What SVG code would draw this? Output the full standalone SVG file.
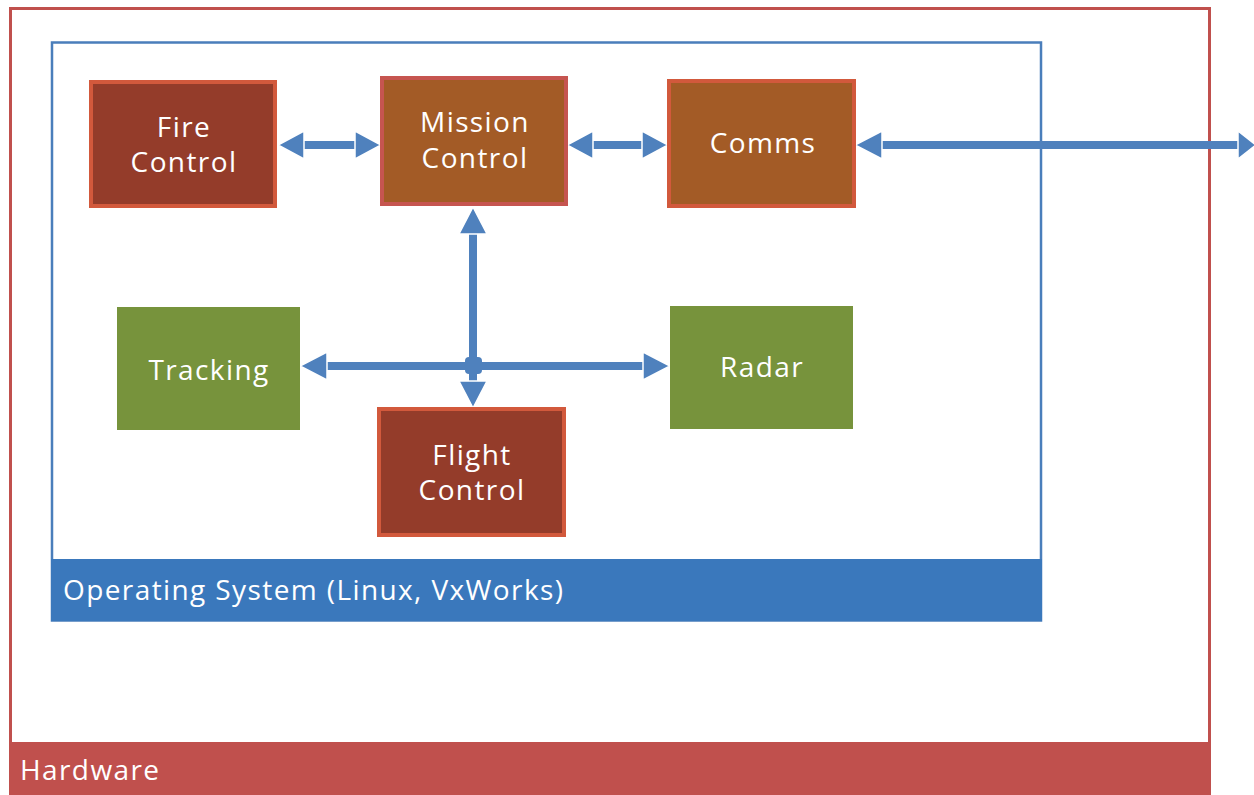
<svg xmlns="http://www.w3.org/2000/svg" width="1254" height="795" viewBox="0 0 1254 795">
<style>
.lbl{font-family:"Open Sans","Noto Sans","DejaVu Sans",sans-serif;font-size:28px;fill:#ffffff;letter-spacing:1.4px}
.ctr{text-anchor:middle}
.shaft{stroke:#4f81bd;stroke-width:8;fill:none}
.head{fill:#4f81bd;stroke:#ffffff;stroke-width:1.5}
.red{fill:#943c2a;stroke:#d2593c;stroke-width:4}
.orange{fill:#a35b26;stroke:#d2593c;stroke-width:4}
.green{fill:#77933c}
</style>
<rect width="1254" height="795" fill="#ffffff"/>
<g id="hardware">
<rect x="10.5" y="8.5" width="1199" height="800" fill="#ffffff" stroke="#c0504d" stroke-width="3"/>
<rect x="9" y="742" width="1202" height="53" fill="#c0504d"/>
<text class="lbl" x="20" y="780">Hardware</text>
</g>
<g id="os">
<rect x="52" y="42.5" width="989" height="578" fill="#ffffff" stroke="#4a7ebb" stroke-width="2.5"/>
<rect x="51" y="559" width="991" height="62" fill="#3a78bc"/>
<text class="lbl" x="63" y="600">Operating System (Linux, VxWorks)</text>
</g>
<g id="connectors">
<line class="shaft" x1="300" y1="145" x2="358" y2="145"/>
<polygon class="head" points="278,145 304,131 304,159"/>
<polygon class="head" points="381,145 355,131 355,159"/>
<line class="shaft" x1="590" y1="145" x2="646" y2="145"/>
<polygon class="head" points="567,145 593,131 593,159"/>
<polygon class="head" points="668,145 642,131 642,159"/>
<line class="shaft" x1="880" y1="145" x2="1240" y2="145"/>
<polygon class="head" points="855,145 882,131 882,159"/>
<polygon class="head" points="1256,145 1238,131 1238,159"/>
<line class="shaft" x1="473" y1="230" x2="473" y2="385"/>
<polygon class="head" points="473,207 459,234 487,234"/>
<polygon class="head" points="473,408 459,381 487,381"/>
<line class="shaft" x1="325" y1="366" x2="646" y2="366"/>
<polygon class="head" points="300,366 327,352 327,380"/>
<polygon class="head" points="670,366 643,352 643,380"/>
<rect x="465" y="357" width="17" height="17" rx="4" fill="#4f81bd"/>
</g>
<g id="fire-control">
<rect class="red" x="91" y="82" width="184" height="124"/>
<text class="lbl ctr" x="184" y="137">Fire</text>
<text class="lbl ctr" x="184" y="172">Control</text>
</g>
<g id="mission-control">
<rect class="orange" x="382" y="78" width="184" height="126" style="stroke:#c65550"/>
<text class="lbl ctr" x="475" y="132">Mission</text>
<text class="lbl ctr" x="475" y="168">Control</text>
</g>
<g id="comms">
<rect class="orange" x="669" y="81" width="185" height="125"/>
<text class="lbl ctr" x="763" y="153">Comms</text>
</g>
<g id="tracking">
<rect class="green" x="117" y="307" width="183" height="123"/>
<text class="lbl ctr" x="209" y="380">Tracking</text>
</g>
<g id="radar">
<rect class="green" x="670" y="306" width="183" height="123"/>
<text class="lbl ctr" x="762" y="377">Radar</text>
</g>
<g id="flight-control">
<rect class="red" x="379" y="409" width="185" height="126"/>
<text class="lbl ctr" x="472" y="465">Flight</text>
<text class="lbl ctr" x="472" y="500">Control</text>
</g>
</svg>
